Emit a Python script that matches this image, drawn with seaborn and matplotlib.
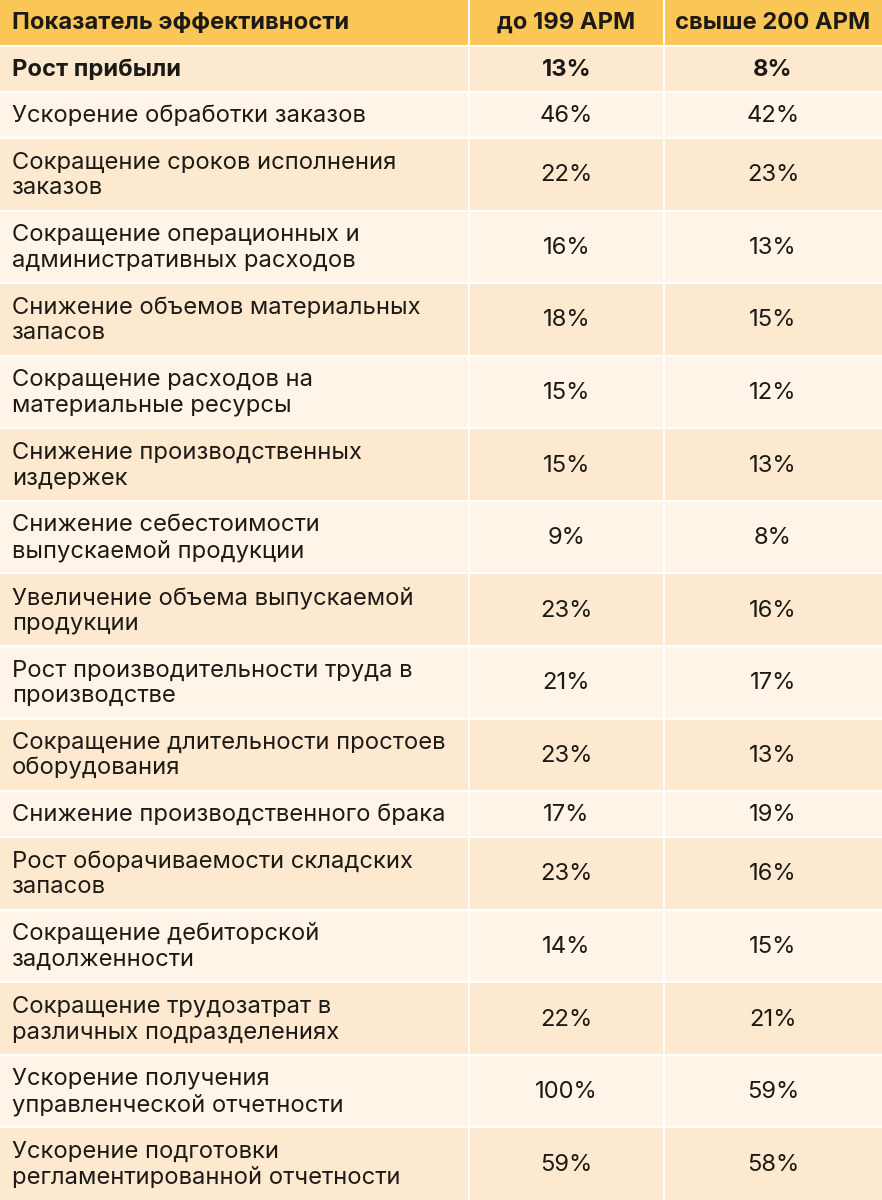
import numpy as np
import pandas as pd
import seaborn as sns
import matplotlib.pyplot as plt

# Table content
header = ["Показатель эффективности", "до 199 АРМ", "свыше 200 АРМ"]

indicators = [
    "Рост прибыли",
    "Ускорение обработки заказов",
    "Сокращение сроков исполнения\nзаказов",
    "Сокращение операционных и\nадминистративных расходов",
    "Снижение объемов материальных\nзапасов",
    "Сокращение расходов на\nматериальные ресурсы",
    "Снижение производственных\nиздержек",
    "Снижение себестоимости\nвыпускаемой продукции",
    "Увеличение объема выпускаемой\nпродукции",
    "Рост производительности труда в\nпроизводстве",
    "Сокращение длительности простоев\nоборудования",
    "Снижение производственного брака",
    "Рост оборачиваемости складских\nзапасов",
    "Сокращение дебиторской\nзадолженности",
    "Сокращение трудозатрат в\nразличных подразделениях",
    "Ускорение получения\nуправленческой отчетности",
    "Ускорение подготовки\nрегламентированной отчетности",
]
upto_199 = [13, 46, 22, 16, 18, 15, 15, 9, 23, 21, 23, 17, 23, 14, 22, 100, 59]
over_200 = [8, 42, 23, 13, 15, 12, 13, 8, 16, 17, 13, 19, 16, 15, 21, 59, 58]

# Colours
HEADER_BG = "#fac656"
DARK_ROW = "#fde9cf"
LIGHT_ROW = "#fef4e8"
TEXT = "#1d1a16"


def build_table():
    df = pd.DataFrame({"indicator": indicators, "upto_199": upto_199, "over_200": over_200})
    df["lines"] = df["indicator"].str.count("\n") + 1
    return df


def draw_table(df, out_file="out.png"):
    W, H = 882, 1200
    header_h = 46
    single_h = 46
    n_double = (df["lines"] == 2).sum()
    n_single = (df["lines"] == 1).sum()
    double_h = (H - header_h - n_single * single_h) / n_double

    heights = np.where(df["lines"] == 1, single_h, double_h)
    tops = header_h + np.concatenate([[0], np.cumsum(heights)[:-1]])
    centers = tops + heights / 2
    colors = [DARK_ROW if i % 2 == 0 else LIGHT_ROW for i in range(len(df))]

    col_edges = [0, 469, 664, W]
    col_centers = [(col_edges[1] + col_edges[2]) / 2, (col_edges[2] + col_edges[3]) / 2]

    sns.set_theme(style="white")
    plt.rcParams['font.family'] = ['Inter', 'DejaVu Sans']

    fig = plt.figure(figsize=(W / 100, H / 100), dpi=100)
    ax = fig.add_axes([0, 0, 1, 1])
    ax.set_xlim(0, W)
    ax.set_ylim(H, 0)
    ax.axis('off')

    # backgrounds
    ax.barh(header_h / 2, W, height=header_h, left=0, color=HEADER_BG, linewidth=0)
    ax.barh(centers, W, height=heights, left=0, color=colors, linewidth=0)

    # white grid lines
    boundaries = np.concatenate([[header_h], tops + heights])
    ax.hlines(boundaries[:-1], 0, W, colors="white", linewidth=1.5)
    ax.vlines(col_edges[1:3], 0, H, colors="white", linewidth=1.5)

    fs = 17.1
    # header
    ax.text(12, header_h / 2, header[0], ha='left', va='center', fontsize=fs,
            fontweight='bold', color=TEXT)
    for cx, label in zip(col_centers, header[1:]):
        ax.text(cx, header_h / 2, label, ha='center', va='center', fontsize=fs,
                fontweight='bold', color=TEXT)

    # rows
    for i, row in df.iterrows():
        weight = 'bold' if i == 0 else 'normal'
        ax.text(12, centers[i] + 1, row["indicator"], ha='left', va='center',
                fontsize=fs, fontweight=weight, color=TEXT, linespacing=1.22)
        ax.text(col_centers[0], centers[i] + 1, f'{row["upto_199"]}%', ha='center',
                va='center', fontsize=fs, fontweight=weight, color=TEXT)
        ax.text(col_centers[1], centers[i] + 1, f'{row["over_200"]}%', ha='center',
                va='center', fontsize=fs, fontweight=weight, color=TEXT)

    fig.savefig(out_file, dpi=100)
    plt.close(fig)


def main():
    df = build_table()
    draw_table(df)


if __name__ == "__main__":
    main()
